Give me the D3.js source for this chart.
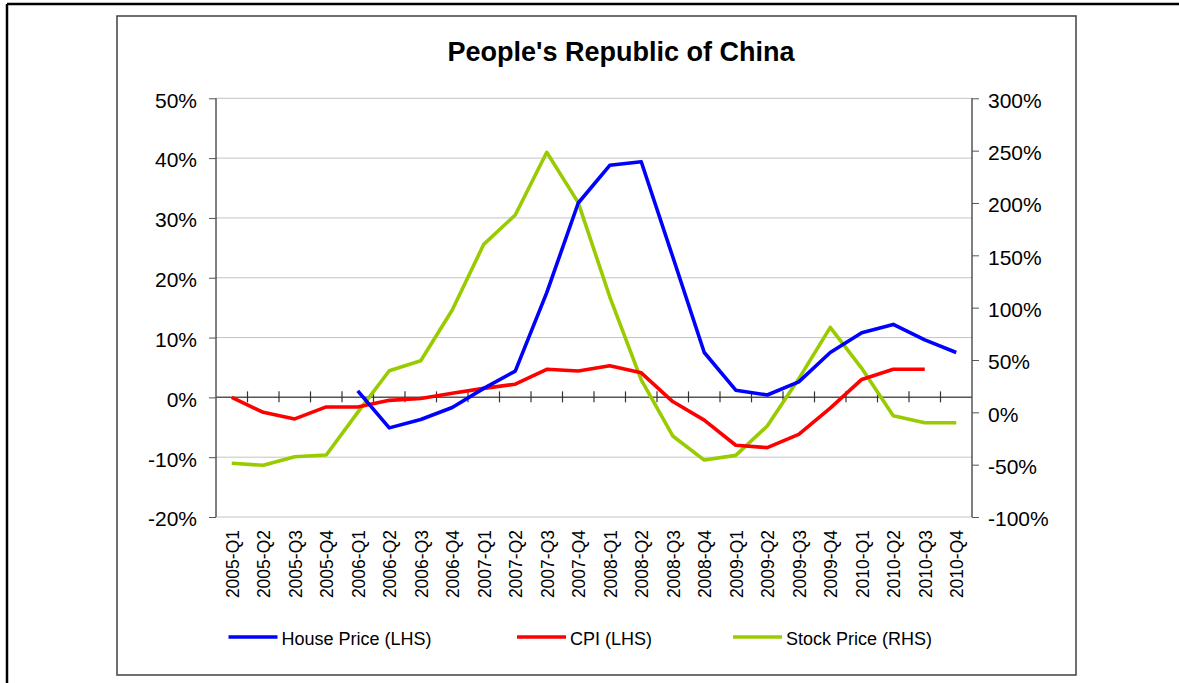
<!DOCTYPE html>
<html>
<head>
<meta charset="utf-8">
<script src="https://cdn.jsdelivr.net/npm/d3@7"></script>
<style>
  body { margin: 0; background: #fff; }
  svg { display: block; font-family: "Liberation Sans", Arial, sans-serif; }
  .grid line { stroke: #c4c4c4; stroke-width: 1; }
  .axis path, .axis line { stroke: #000; }
  .ylab { font-size: 21px; fill: #000; }
  .xlab { font-size: 17.5px; fill: #000; }
  .leg { font-size: 18px; fill: #000; }
</style>
</head>
<body>
<div id="chart"></div>
<script>
// quarters
var quarters = ["2005-Q1","2005-Q2","2005-Q3","2005-Q4",
                "2006-Q1","2006-Q2","2006-Q3","2006-Q4",
                "2007-Q1","2007-Q2","2007-Q3","2007-Q4",
                "2008-Q1","2008-Q2","2008-Q3","2008-Q4",
                "2009-Q1","2009-Q2","2009-Q3","2009-Q4",
                "2010-Q1","2010-Q2","2010-Q3","2010-Q4"];

// house price yoy % (LHS), starts 2006-Q1
var housePrice = [null, null, null, null,
                  1.1, -5.1, -3.7, -1.7,
                  1.5, 4.4, 17.5, 32.5,
                  38.8, 39.4, 23.5, 7.5,
                  1.2, 0.4, 2.6, 7.5,
                  10.8, 12.2, 9.6, 7.5];

// CPI % (LHS), ends 2010-Q3
var cpi = [0, -2.5, -3.6, -1.6,
           -1.6, -0.5, -0.2, 0.7,
           1.5, 2.2, 4.7, 4.4,
           5.3, 4.1, -0.7, -3.8,
           -8.0, -8.4, -6.2, -1.8,
           3.0, 4.7, 4.7, null];

// stock price yoy % (RHS)
var stockPrice = [-48.7, -50.6, -42.4, -40.8,
                  0, 39.7, 49.3, 97.7,
                  160.5, 188.5, 248.4, 200.3,
                  110.4, 30.9, -22.6, -45.6,
                  -41.1, -13.1, 32, 81.2,
                  42, -3.2, -9.9, -9.9];

var leftTicks = [50, 40, 30, 20, 10, 0, -10, -20];
var rightTicks = [300, 250, 200, 150, 100, 50, 0, -50, -100];

var seriesNames = ["House Price (LHS)", "CPI (LHS)", "Stock Price (RHS)"];
var seriesColors = ["#0000ff", "#ff0000", "#99cc00"];

var W = 1179, H = 683;
var plot = {left: 216, right: 972, top: 98.3, bottom: 517};

var svg = d3.select("#chart").append("svg")
    .attr("width", W)
    .attr("height", H);

// outer frame (only top and left edges visible)
svg.append("line").attr("x1", 7).attr("y1", 4).attr("x2", W).attr("y2", 4)
    .style("stroke", "#000").style("stroke-width", 2.5);
svg.append("line").attr("x1", 7).attr("y1", 4).attr("x2", 7).attr("y2", H)
    .style("stroke", "#000").style("stroke-width", 2.5);

// chart frame
svg.append("rect")
    .attr("x", 117).attr("y", 16)
    .attr("width", 959).attr("height", 659)
    .style("fill", "none").style("stroke", "#404040").style("stroke-width", 1.5);

// title
svg.append("text")
    .attr("x", 621).attr("y", 60.5)
    .attr("text-anchor", "middle")
    .style("font-size", "27px").style("font-weight", "bold")
    .text("People's Republic of China");

// scales
var x = d3.scaleBand()
    .domain(quarters)
    .range([plot.left, plot.right])
    .paddingInner(0).paddingOuter(0);
var xc = function(d) { return x(d) + x.bandwidth() / 2; };

var yL = d3.scaleLinear().domain([-20, 50]).range([plot.bottom, plot.top]);
var yR = d3.scaleLinear().domain([-100, 300]).range([plot.bottom, plot.top]);

// gridlines
svg.append("g").attr("class", "grid")
    .selectAll("line")
    .data(leftTicks.filter(function(d){ return d !== 0; }))
    .enter().append("line")
    .attr("x1", plot.left).attr("x2", plot.right)
    .attr("y1", function(d){ return yL(d); })
    .attr("y2", function(d){ return yL(d); });

// left axis
var leftAxis = svg.append("g")
    .attr("class", "axis")
    .attr("transform", "translate(" + plot.left + ",0)")
    .call(d3.axisLeft(yL).tickValues(leftTicks).tickSize(7).tickPadding(12)
        .tickFormat(function(d){ return d + "%"; }));
leftAxis.select(".domain").attr("d", "M0," + plot.top + "V" + plot.bottom);
leftAxis.selectAll("line").style("stroke", "#555");
leftAxis.selectAll("text").attr("class", "ylab").attr("dy", "0.42em");

// right axis
var rightAxis = svg.append("g")
    .attr("class", "axis")
    .attr("transform", "translate(" + plot.right + ",0)")
    .call(d3.axisRight(yR).tickValues(rightTicks).tickSize(7).tickPadding(9)
        .tickFormat(function(d){ return d + "%"; }));
rightAxis.select(".domain").attr("d", "M0," + plot.top + "V" + plot.bottom);
rightAxis.selectAll("line").style("stroke", "#555");
rightAxis.selectAll("text").attr("class", "ylab").attr("dy", "0.42em");

// zero line with cross ticks at category boundaries
var zeroY = yL(0);
svg.append("line")
    .attr("x1", plot.left).attr("x2", plot.right)
    .attr("y1", zeroY).attr("y2", zeroY)
    .style("stroke", "#555").style("stroke-width", 1.5);
svg.append("g").selectAll("line")
    .data(quarters.slice(1))
    .enter().append("line")
    .attr("x1", function(d){ return x(d); })
    .attr("x2", function(d){ return x(d); })
    .attr("y1", zeroY - 6).attr("y2", zeroY + 5)
    .style("stroke", "#333").style("stroke-width", 1.2);

// x labels (rotated)
svg.append("g").selectAll("text")
    .data(quarters)
    .enter().append("text")
    .attr("class", "xlab")
    .attr("transform", function(d){ return "translate(" + (xc(d) + 0.5) + ",530) rotate(-90)"; })
    .attr("text-anchor", "end")
    .attr("dy", "0.36em")
    .text(function(d){ return d; });

// lines
function drawLine(values, yScale, color) {
    var line = d3.line()
        .defined(function(d){ return d !== null; })
        .x(function(d, i){ return xc(quarters[i]); })
        .y(function(d){ return yScale(d); });
    svg.append("path")
        .datum(values)
        .attr("d", line)
        .style("fill", "none")
        .style("stroke", color)
        .style("stroke-width", 3.6)
        .style("stroke-linejoin", "round");
}

drawLine(stockPrice, yR, seriesColors[2]);
drawLine(cpi, yL, seriesColors[1]);
drawLine(housePrice, yL, seriesColors[0]);

// legend
var legX = [228.5, 517, 733];
var leg = svg.append("g").selectAll("g")
    .data(seriesNames)
    .enter().append("g")
    .attr("transform", function(d, i){ return "translate(" + legX[i] + ",637)"; });
leg.append("line")
    .attr("x1", 0).attr("x2", 49)
    .attr("y1", 0).attr("y2", 0)
    .style("stroke", function(d, i){ return seriesColors[i]; })
    .style("stroke-width", 3.6);
leg.append("text")
    .attr("class", "leg")
    .attr("x", 53).attr("y", 7.5)
    .text(function(d){ return d; });
</script>
</body>
</html>
